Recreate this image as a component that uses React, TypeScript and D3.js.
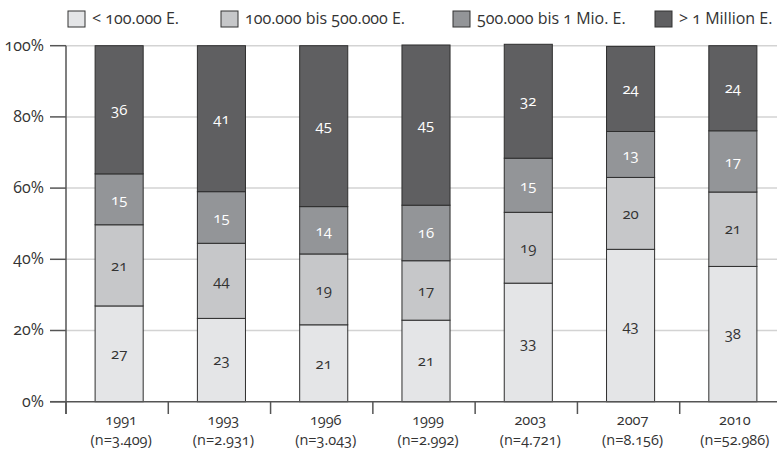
import { useEffect, useRef } from 'react';
import * as d3 from 'd3';

const years = ['1991', '1993', '1996', '1999', '2003', '2007', '2010'];
const sampleSizes = ['(n=3.409)', '(n=2.931)', '(n=3.043)', '(n=2.992)', '(n=4.721)', '(n=8.156)', '(n=52.986)'];
const seriesNames = ['< 100.000 E.', '100.000 bis 500.000 E.', '500.000 bis 1 Mio. E.', '> 1 Million E.'];

// segment heights in percent, as drawn
const under100k = [26.9, 23.4, 21.6, 22.9, 33.3, 42.8, 38.0];
const from100kTo500k = [22.8, 21.1, 19.9, 16.7, 19.9, 20.2, 20.9];
const from500kTo1m = [14.3, 14.5, 13.3, 15.6, 15.2, 12.9, 17.2];
const over1m = [36.0, 41.0, 45.2, 45.0, 32.0, 23.9, 23.9];

// printed labels (1993 shows "44" in the original)
const labelsUnder100k = ['27', '23', '21', '21', '33', '43', '38'];
const labels100kTo500k = ['21', '44', '19', '17', '19', '20', '21'];
const labels500kTo1m = ['15', '15', '14', '16', '15', '13', '17'];
const labelsOver1m = ['36', '41', '45', '45', '32', '24', '24'];

const yTicks = [0, 20, 40, 60, 80, 100];
const colors = ['#e4e5e7', '#c6c7c9', '#939598', '#5f5f61'];
const textColors = ['#333', '#333', '#fff', '#fff'];

export default function App() {
  const svgRef = useRef<SVGSVGElement>(null);

  useEffect(() => {
    if (!svgRef.current) return;
    const W = 777;
    const H = 451;
    const svg = d3.select(svgRef.current).attr('width', W).attr('height', H);
    svg.selectAll('*').remove();

    const font = "'Open Sans', sans-serif";
    const g = svg.append('g').style('font-family', font).style('font-feature-settings', '"onum"');

    const x = d3.scaleBand().domain(years).range([68, 784]).paddingInner(0.53).paddingOuter(0.265);
    const xBand = d3.scaleBand().domain(years).range([66, 782]);
    const y = d3.scaleLinear().domain([0, 100]).range([401.7, 45.7]);

    // gridlines
    g.selectAll('.grid')
      .data(yTicks.filter((t) => t > 0))
      .join('line')
      .attr('x1', 66)
      .attr('x2', W)
      .attr('y1', (d) => y(d))
      .attr('y2', (d) => y(d))
      .attr('stroke', '#d3d3d3')
      .attr('stroke-width', 1.5);

    const shares = [under100k, from100kTo500k, from500kTo1m, over1m];
    const labels = [labelsUnder100k, labels100kTo500k, labels500kTo1m, labelsOver1m];

    const table = years.map((yr, i) => {
      const row: Record<string, number | string> = { year: yr };
      shares.forEach((s, k) => (row[`s${k}`] = s[i]));
      return row;
    });
    const stack = d3.stack<Record<string, number | string>>().keys(['s0', 's1', 's2', 's3'])(table);

    stack.forEach((layer, k) => {
      const lg = g.append('g');
      lg.selectAll('rect')
        .data(layer)
        .join('rect')
        .attr('x', (d) => x(d.data.year as string) ?? 0)
        .attr('width', x.bandwidth())
        .attr('y', (d) => y(d[1]))
        .attr('height', (d) => y(d[0]) - y(d[1]))
        .attr('fill', colors[k])
        .attr('stroke', '#2e2e2e')
        .attr('stroke-width', 1);
      lg.selectAll('text')
        .data(layer)
        .join('text')
        .attr('x', (d) => (x(d.data.year as string) ?? 0) + x.bandwidth() / 2)
        .attr('y', (d) => (y(d[0]) + y(d[1])) / 2)
        .attr('dy', '0.35em')
        .attr('text-anchor', 'middle')
        .attr('font-size', 15)
        .attr('fill', textColors[k])
        .text((_, i) => labels[k][i]);
    });

    // x axis
    g.append('line')
      .attr('x1', 50)
      .attr('x2', W)
      .attr('y1', y(0))
      .attr('y2', y(0))
      .attr('stroke', '#555')
      .attr('stroke-width', 1.5);
    g.selectAll('.sep')
      .data(years)
      .join('line')
      .attr('x1', (d) => xBand(d) ?? 0)
      .attr('x2', (d) => xBand(d) ?? 0)
      .attr('y1', y(0))
      .attr('y2', 414)
      .attr('stroke', '#555')
      .attr('stroke-width', 1.5);

    // y axis
    g.append('line')
      .attr('x1', 66)
      .attr('x2', 66)
      .attr('y1', y(100))
      .attr('y2', 414)
      .attr('stroke', '#555')
      .attr('stroke-width', 1.5);
    g.selectAll('.ytick')
      .data(yTicks)
      .join('line')
      .attr('x1', 50)
      .attr('x2', 66)
      .attr('y1', (d) => y(d))
      .attr('y2', (d) => y(d))
      .attr('stroke', '#555')
      .attr('stroke-width', 1.5);
    g.selectAll('.ylab')
      .data(yTicks)
      .join('text')
      .attr('x', 44)
      .attr('y', (d) => y(d))
      .attr('dy', '0.3em')
      .attr('text-anchor', 'end')
      .attr('font-size', 16)
      .attr('fill', '#333')
      .text((d) => `${d}%`);

    // category labels: year line and sample size line
    const cx = (d: string) => (x(d) ?? 0) + x.bandwidth() / 2 + 2;
    g.selectAll('.year')
      .data(years)
      .join('text')
      .attr('class', 'year')
      .attr('x', cx)
      .attr('y', 425)
      .attr('text-anchor', 'middle')
      .attr('font-size', 14.5)
      .attr('fill', '#333')
      .text((d) => d);
    g.selectAll('.nsize')
      .data(years)
      .join('text')
      .attr('class', 'nsize')
      .attr('x', cx)
      .attr('y', 445)
      .attr('text-anchor', 'middle')
      .attr('font-size', 14.5)
      .attr('fill', '#333')
      .text((_, i) => sampleSizes[i]);

    // legend
    const legendX = [68, 221, 453, 655];
    const leg = g.selectAll('.leg').data(seriesNames).join('g')
      .attr('transform', (_, i) => `translate(${legendX[i]},11)`);
    leg.append('rect')
      .attr('width', 17)
      .attr('height', 16)
      .attr('fill', (_, i) => colors[i])
      .attr('stroke', '#333')
      .attr('stroke-width', 1);
    leg.append('text')
      .attr('x', 24)
      .attr('y', 13)
      .attr('font-size', 16)
      .attr('fill', '#333')
      .text((d) => d);
  }, []);

  return <svg ref={svgRef} style={{ position: 'absolute', left: 0, top: 0, display: 'block' }} />;
}
